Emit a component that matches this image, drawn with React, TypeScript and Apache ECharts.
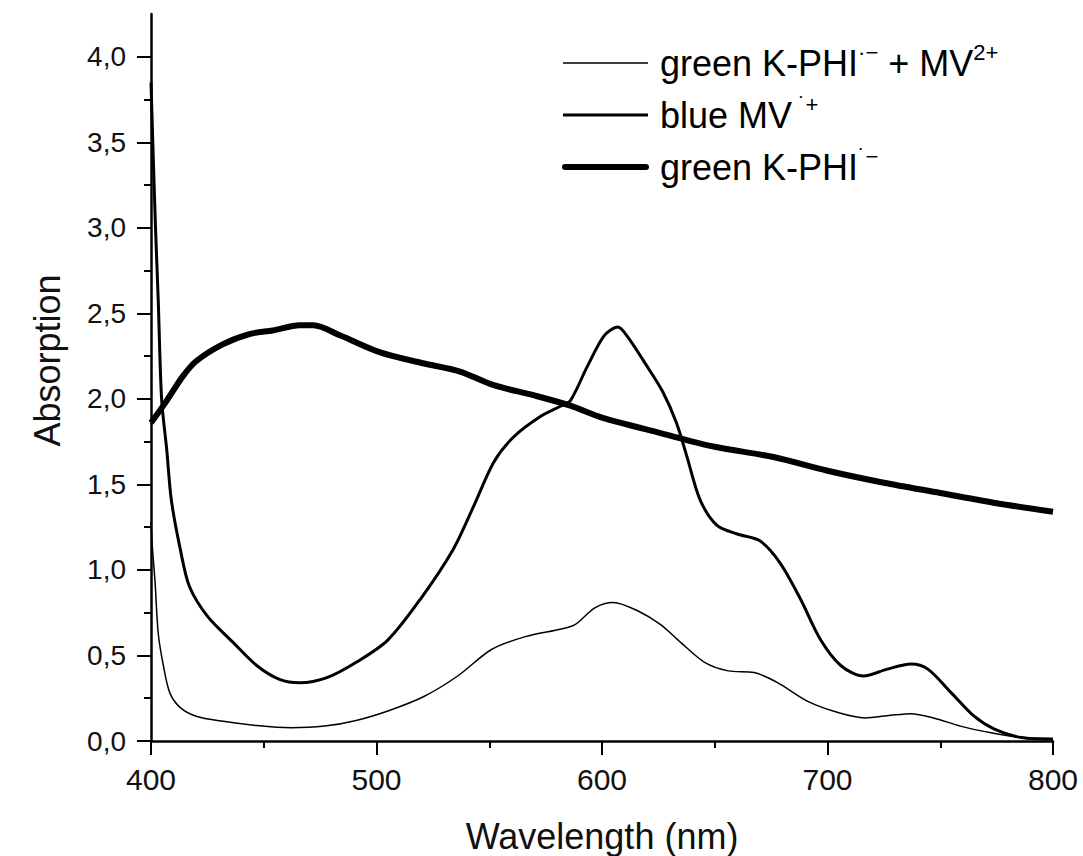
import React, { useEffect, useRef } from "react";
import * as echarts from "echarts";

// ---- data ----
const thinX = [400, 400.5, 401.8, 403.2, 405.5, 408.4, 413, 420, 432, 447, 462, 477, 491, 506, 521, 536, 551, 566, 582, 588, 597, 605, 616, 626, 635, 645.5, 656, 667.5, 678, 691.5, 705, 716.5, 728, 737, 747, 759, 772.5, 786, 800];
const thinY = [1.28, 1.15, 0.93, 0.63, 0.44, 0.28, 0.195, 0.145, 0.115, 0.09, 0.077, 0.087, 0.12, 0.18, 0.26, 0.38, 0.535, 0.61, 0.655, 0.68, 0.78, 0.81, 0.76, 0.68, 0.575, 0.46, 0.41, 0.4, 0.34, 0.23, 0.165, 0.135, 0.15, 0.16, 0.135, 0.087, 0.048, 0.02, 0.015];

const blueX = [400, 400.8, 402, 403.2, 404.7, 407, 409, 413, 417, 425, 436.5, 447, 457, 466, 478, 491, 505, 519.5, 534, 543, 552, 561, 573, 582, 586, 593.5, 601, 607, 611, 620, 627, 633, 637.5, 643.5, 651, 660, 670, 679, 688, 697, 706, 716, 726.5, 737, 744.5, 755, 765, 774, 786, 800];
const blueY = [3.85, 3.5, 3.0, 2.58, 2.0, 1.7, 1.41, 1.12, 0.905, 0.73, 0.575, 0.44, 0.36, 0.34, 0.37, 0.46, 0.59, 0.83, 1.12, 1.37, 1.63, 1.78, 1.9, 1.96, 1.99, 2.19, 2.37, 2.42, 2.37, 2.19, 2.04, 1.86, 1.67, 1.41, 1.26, 1.21, 1.17, 1.04, 0.83, 0.59, 0.44, 0.38, 0.42, 0.45, 0.42, 0.28, 0.145, 0.07, 0.02, 0.01];

const thickX = [400, 407, 414, 420, 432, 444, 454, 466, 472, 484, 502, 520, 537, 552, 570, 586, 600, 626, 650, 676, 700, 725, 750, 775, 800];
const thickY = [1.86, 1.99, 2.13, 2.22, 2.32, 2.38, 2.4, 2.43, 2.43, 2.37, 2.27, 2.21, 2.16, 2.08, 2.02, 1.96, 1.89, 1.8, 1.72, 1.66, 1.58, 1.51, 1.45, 1.39, 1.34];

const yMajorTicks = [0, 0.5, 1, 1.5, 2, 2.5, 3, 3.5, 4];
const yMinorTicks = [0.25, 0.75, 1.25, 1.75, 2.25, 2.75, 3.25, 3.75];

const seriesNames = ["green K-PHI·− + MV2+", "blue MV·+", "green K-PHI·−"];

const FONT = "'Liberation Sans', Arial, sans-serif";

export default function App() {
  const ref = useRef<HTMLDivElement>(null);

  useEffect(() => {
    document.body.style.margin = "0";
    if (!ref.current) return;
    const chart = echarts.init(ref.current, undefined, { renderer: "svg" });

    const pairs = (xs: number[], ys: number[]) => xs.map((x, i) => [x, ys[i]]);
    const tickStyle = { color: "#000", width: 2 };
    const txt = { fontFamily: FONT, color: "#111" };

    const supBase = { fontFamily: FONT, color: "#111" };
    const rich = {
      t: { ...supBase, fontSize: 36, lineHeight: 44 },
      s: { ...supBase, fontSize: 22, lineHeight: 22, verticalAlign: "top" },
      m: { ...supBase, fontSize: 22, lineHeight: 26, verticalAlign: "top" },
      d: { ...supBase, fontSize: 22, lineHeight: 22, verticalAlign: "top" },
    };

    const option: any = {
      animation: false,
      backgroundColor: "#fff",
      grid: { left: 151, right: 30, top: 14, bottom: 115, outerBoundsMode: "none" },
      xAxis: {
        type: "value",
        min: 400,
        max: 800,
        interval: 100,
        name: "Wavelength (nm)",
        nameLocation: "middle",
        nameGap: 77,
        nameTextStyle: { ...txt, fontSize: 36 },
        axisLine: { onZero: false, lineStyle: { color: "#000", width: 2.5 } },
        axisTick: { length: 14, lineStyle: tickStyle },
        minorTick: { show: true, splitNumber: 2, length: 7, lineStyle: tickStyle },
        axisLabel: { ...txt, fontSize: 30, margin: 23, showMinLabel: true, showMaxLabel: true },
        splitLine: { show: false },
        minorSplitLine: { show: false },
      },
      yAxis: [
        {
          type: "value",
          min: 0,
          max: 4.25,
          interval: 0.5,
          position: "left",
          name: "Absorption",
          nameLocation: "middle",
          nameGap: 86,
          nameTextStyle: { ...txt, fontSize: 36, padding: [0, 0, 0, 34] },
          axisLine: { show: true, onZero: false, lineStyle: { color: "#000", width: 2.5 } },
          axisTick: { show: true, length: 14, lineStyle: tickStyle, customValues: yMajorTicks },
          axisLabel: {
            ...txt,
            fontSize: 28,
            margin: 25,
            customValues: yMajorTicks,
            formatter: (v: number) =>
              Math.abs(v * 2 - Math.round(v * 2)) < 1e-6 ? v.toFixed(1).replace(".", ",") : "",
          },
          splitLine: { show: false },
        },
        {
          type: "value",
          min: 0,
          max: 4.25,
          position: "left",
          offset: 0,
          axisLine: { show: false },
          axisTick: { show: true, length: 7, lineStyle: tickStyle, customValues: yMinorTicks },
          axisLabel: { show: false, customValues: yMinorTicks },
          splitLine: { show: false },
        },
      ],
      series: [
        {
          name: seriesNames[0],
          type: "line",
          data: pairs(thinX, thinY),
          showSymbol: false,
          symbol: "none",
          smooth: 0.3,
          lineStyle: { color: "#000", width: 1.5 },
          z: 3,
        },
        {
          name: seriesNames[1],
          type: "line",
          data: pairs(blueX, blueY),
          showSymbol: false,
          symbol: "none",
          smooth: 0.3,
          lineStyle: { color: "#000", width: 3 },
          z: 3,
        },
        {
          name: seriesNames[2],
          type: "line",
          data: pairs(thickX, thickY),
          showSymbol: false,
          symbol: "none",
          smooth: 0.3,
          lineStyle: { color: "#000", width: 6 },
          z: 3,
        },
      ],
      graphic: [
        { type: "line", shape: { x1: 563, y1: 63, x2: 648, y2: 63 }, style: { stroke: "#000", lineWidth: 1.5 } },
        { type: "line", shape: { x1: 563, y1: 115, x2: 648, y2: 115 }, style: { stroke: "#000", lineWidth: 3 } },
        { type: "line", shape: { x1: 565, y1: 167, x2: 646, y2: 167 }, style: { stroke: "#000", lineWidth: 6, lineCap: "round" } },
        {
          type: "text",
          x: 660,
          y: 63,
          style: {
            text: "{t|green K-PHI}{d|·}{m|−}{t| + MV}{s|2+}",
            rich,
            verticalAlign: "middle",
            align: "left",
          },
        },
        {
          type: "text",
          x: 660,
          y: 115,
          style: {
            text: "{t|blue MV}{d| ˙}{s|+}",
            rich,
            verticalAlign: "middle",
            align: "left",
          },
        },
        {
          type: "text",
          x: 660,
          y: 167,
          style: {
            text: "{t|green K-PHI}{d|˙}{m|−}",
            rich,
            verticalAlign: "middle",
            align: "left",
          },
        },
      ],
    };

    chart.setOption(option);
    return () => chart.dispose();
  }, []);

  return <div ref={ref} style={{ width: 1083, height: 856 }} />;
}
